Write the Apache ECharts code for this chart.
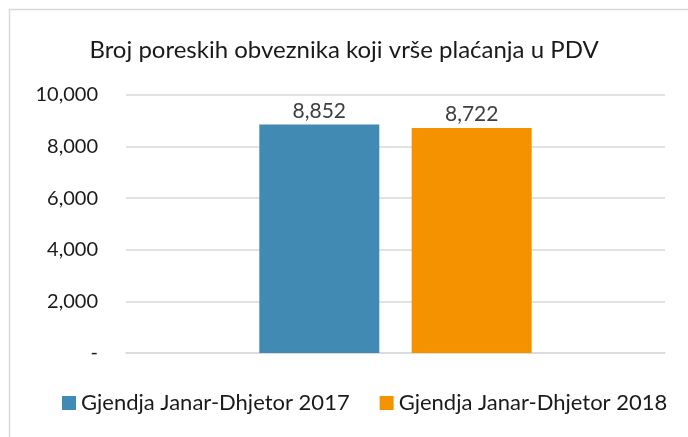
<!DOCTYPE html>
<html>
<head>
<meta charset="utf-8">
<script src="https://cdn.jsdelivr.net/npm/echarts@6/dist/echarts.min.js"></script>
<style>
  html, body { margin: 0; padding: 0; background: #fff; }
  #chart { width: 688px; height: 437px; }
</style>
</head>
<body>
<div id="chart"></div>
<script type="text/javascript">

var categories = [''];
var seriesNames = ['Gjendja Janar-Dhjetor 2017', 'Gjendja Janar-Dhjetor 2018'];
var values2017 = [8852];
var values2018 = [8722];
var colors = ['#418AB3', '#F59200'];

var fmt = function (v) {
    if (v === 0) return '-';
    return v.toString().replace(/\B(?=(\d{3})+(?!\d))/g, ',');
};

var labelStyle = {
    show: true,
    position: 'top',
    distance: 3,
    color: '#404040',
    fontSize: 21,
    fontFamily: 'Lato',
    formatter: function (p) { return fmt(p.value); }
};

var option = {
    backgroundColor: '#fff',
    animation: false,
    title: {
        text: 'Broj poreskih obveznika koji vrše plaćanja u PDV',
        left: 'center',
        top: 33,
        textStyle: { color: '#1a1a1a', fontSize: 24, fontWeight: 'normal', fontFamily: 'Lato' }
    },
    graphic: [{
        type: 'rect',
        shape: { x: 9.5, y: 9.5, width: 700, height: 460 },
        style: { fill: 'none', stroke: '#d9d9d9', lineWidth: 1.5 },
        silent: true
    }],
    legend: {
        top: 387,
        left: 57,
        itemWidth: 14,
        itemHeight: 14,
        itemGap: 30,
        icon: 'rect',
        textStyle: { color: '#1a1a1a', fontSize: 22, fontFamily: 'Lato' },
        data: seriesNames
    },
    grid: { left: 126, right: 23, top: 95, bottom: 84 },
    xAxis: {
        type: 'category',
        data: categories,
        axisLine: { show: true, lineStyle: { color: '#d9d9d9', width: 1.5 } },
        axisTick: { show: false },
        axisLabel: { show: false }
    },
    yAxis: {
        type: 'value',
        min: 0,
        max: 10000,
        interval: 2000,
        axisLine: { show: false },
        axisTick: { show: false },
        splitLine: { lineStyle: { color: '#d9d9d9', width: 1.5 } },
        axisLabel: {
            color: '#1a1a1a',
            fontSize: 20,
            fontFamily: 'Lato',
            margin: 28,
            formatter: fmt
        }
    },
    series: [
        {
            name: seriesNames[0],
            type: 'bar',
            data: values2017,
            barWidth: 120,
            barGap: '27%',
            itemStyle: { color: colors[0] },
            label: labelStyle
        },
        {
            name: seriesNames[1],
            type: 'bar',
            data: values2018,
            barWidth: 120,
            barGap: '27%',
            itemStyle: { color: colors[1] },
            label: labelStyle
        }
    ]
};

var chart = echarts.init(document.getElementById('chart'));
chart.setOption(option);
</script>
</body>
</html>
